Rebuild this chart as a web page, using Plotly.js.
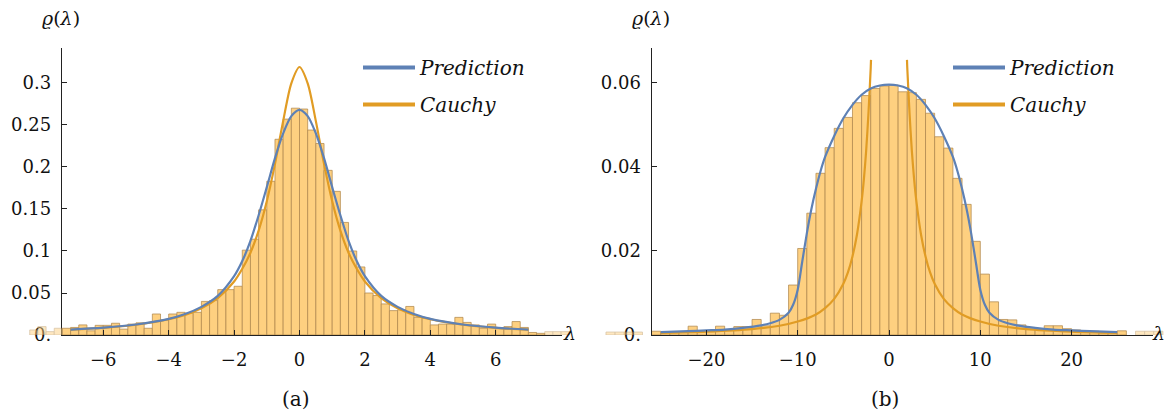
<!DOCTYPE html>
<html>
<head>
<meta charset="utf-8">
<script src="https://cdn.plot.ly/plotly-3.0.1.min.js"></script>
<style>html,body{margin:0;padding:0;background:#fff;}#chart{width:1166px;height:418px;}</style>
</head>
<body>
<div id="chart"></div>
<script>
// ---------- data: panel (a) ----------
const leftBinStart = -7.25;
const leftBinWidth = 0.25;
const leftDensity = [0.008,0.009,0.012,0.005,0.0115,0.0115,0.014,0.007,0.013,0.0145,
  0.008,0.025,0.018,0.025,0.027,0.026,0.027,0.040,0.041,0.054,
  0.054,0.058,0.101,0.114,0.149,0.183,0.233,0.257,0.270,
  0.269,0.244,0.228,0.196,0.171,0.134,0.100,0.081,0.050,0.047,
  0.037,0.029,0.030,0.034,0.021,0.020,0.012,0.013,0.013,0.021,
  0.015,0.012,0.008,0.013,0.008,0.010,0.016,0.009,0.003,0.002];
const leftOutStarts = [-8.25,-8,-7.75,-7.5,7.5,7.75,8];
const leftOutDensity = [0.006,0.010,0.004,0.008,0.004,0.004,0.004];

const leftCurveX = [-7,-6,-5,-4,-3.5,-3,-2.5,-2,-1.75,-1.5,-1.25,-1,-0.75,-0.5,-0.25,0,
  0.25,0.5,0.75,1,1.25,1.5,1.75,2,2.5,3,3.5,4,5,6,7];
const leftPrediction = [0.0064,0.0087,0.0125,0.0192,0.0250,0.0335,0.0465,0.0700,0.0880,0.1120,0.1425,0.1760,0.2105,0.2400,0.2605,0.2680,
  0.2605,0.2400,0.2105,0.1760,0.1425,0.1120,0.0880,0.0700,0.0465,0.0335,0.0250,0.0192,0.0125,0.0087,0.0064];
const leftCauchy = [0.0064,0.0086,0.0122,0.0187,0.0240,0.0318,0.0439,0.0637,0.0788,0.0979,0.1242,0.1592,0.2037,0.2546,0.2996,0.3190,
  0.2996,0.2546,0.2037,0.1592,0.1242,0.0979,0.0788,0.0637,0.0439,0.0318,0.0240,0.0187,0.0122,0.0086,0.0064];

const leftYTicks = [0,0.05,0.1,0.15,0.2,0.25,0.3];
const leftYTickText = ["0.","0.05","0.1","0.15","0.2","0.25","0.3"];
const leftXTicks = [-6,-4,-2,0,2,4,6];

// ---------- data: panel (b) ----------
const rightBinStart = -26;
const rightBinWidth = 1;
const rightDensity = [0.0009,0.0006,0.0006,0.0006,0.0021,0.0008,0.0008,0.0021,0.0012,0.0020,
  0.0020,0.0037,0.0022,0.0052,0.0047,0.0119,0.0206,0.0290,0.0385,0.0446,
  0.0492,0.0518,0.0553,0.0570,0.0587,0.0593,
  0.0595,0.0579,0.0577,0.0561,0.0528,0.0472,0.0445,0.0373,0.0311,0.0223,
  0.0145,0.0079,0.0037,0.0036,0.0024,0.0018,0.0015,0.0022,0.0022,0.0015,
  0.0012,0.0008,0.0009,0.0005,0.0004,0.0010];
const rightOutStarts = [-31,-30,-29,-28,27,28,29];
const rightOutDensity = [0.0007,0.0007,0.0007,0.0007,0.0009,0.0009,0.0009];

const rightPredX = [-25,-22,-20,-18,-16,-14,-13,-12,-11,-10.5,-10,-9.5,-9,-8.5,-8,-7.5,-7,-6,-5,-4,-3,-2,-1,0,
  1,2,3,4,5,6,7,7.5,8,8.5,9,9.5,10,10.5,11,12,13,14,16,18,20,22,25];
const rightPrediction = [0.0007,0.0009,0.0011,0.0013,0.0017,0.0023,0.0028,0.0036,0.0053,0.0072,0.0108,0.0175,0.0242,0.0300,0.0348,0.0390,0.0424,0.0474,0.0516,0.0548,0.0572,0.0587,0.0594,0.0596,
  0.0594,0.0587,0.0572,0.0548,0.0516,0.0474,0.0424,0.0390,0.0348,0.0300,0.0242,0.0175,0.0108,0.0072,0.0053,0.0036,0.0028,0.0023,0.0017,0.0013,0.0011,0.0009,0.0007];
const rightCauchyLeftX = [-25,-20,-15,-12,-10,-8,-7,-6,-5,-4.5,-4,-3.5,-3,-2.75,-2.5,-2.25,-2,-1.97];
const rightCauchyLeft = [0.0005,0.0008,0.0014,0.0022,0.0032,0.0049,0.0064,0.0086,0.0122,0.0149,0.0187,0.0240,0.0318,0.0371,0.0439,0.0528,0.0637,0.0655];
const rightCauchyRightX = [1.97,2,2.25,2.5,2.75,3,3.5,4,4.5,5,6,7,8,10,12,15,20,25];
const rightCauchyRight = [0.0655,0.0637,0.0528,0.0439,0.0371,0.0318,0.0240,0.0187,0.0149,0.0122,0.0086,0.0064,0.0049,0.0032,0.0022,0.0014,0.0008,0.0005];

const rightYTicks = [0,0.02,0.04,0.06];
const rightYTickText = ["0.","0.02","0.04","0.06"];
const rightXTicks = [-20,-10,0,10,20];

// ---------- styling ----------
const W = 1166, H = 418;
const BLUE = 'rgb(94,129,181)';
const ORANGE = 'rgb(225,156,36)';
const BARFILL = 'rgb(254,208,128)';
const BAREDGE = 'rgba(176,136,78,0.75)';
const SERIF = 'DejaVu Serif, Liberation Serif, serif';
const px = v => v / W;
const py = v => 1 - v / H;

function centers(start, width, n) { const a = []; for (let i = 0; i < n; i++) a.push(start + (i + 0.5) * width); return a; }
function centersFrom(starts, width) { return starts.map(s => s + width / 2); }

function bars(x, y, w, xa, ya, op) {
  return {type: 'bar', x: x, y: y, width: w, xaxis: xa, yaxis: ya, showlegend: false, hoverinfo: 'skip',
    opacity: op, marker: {color: BARFILL, line: {color: BAREDGE, width: 1}}};
}
function curve(x, y, color, xa, ya) {
  return {type: 'scatter', mode: 'lines', x: x, y: y, xaxis: xa, yaxis: ya, showlegend: false, hoverinfo: 'skip',
    line: {color: color, width: 2.2, shape: 'spline', smoothing: 0.8}};
}
function legendKey(name, color, leg) {
  return {type: 'scatter', mode: 'lines', x: [null], y: [null], name: name, legend: leg, legendgroup: leg + name,
    showlegend: true, line: {color: color, width: 4}, xaxis: 'x', yaxis: 'y'};
}

const traces = [
  bars(centers(leftBinStart, leftBinWidth, leftDensity.length), leftDensity, leftBinWidth, 'x', 'y', 1),
  curve(leftCurveX, leftCauchy, ORANGE, 'x', 'y'),
  curve(leftCurveX, leftPrediction, BLUE, 'x', 'y'),
  bars(centers(rightBinStart, rightBinWidth, rightDensity.length), rightDensity, rightBinWidth, 'x2', 'y2', 1),
  curve(rightCauchyLeftX, rightCauchyLeft, ORANGE, 'x2', 'y2'),
  curve(rightCauchyRightX, rightCauchyRight, ORANGE, 'x2', 'y2'),
  curve(rightPredX, rightPrediction, BLUE, 'x2', 'y2'),
  bars(centersFrom(leftOutStarts, leftBinWidth), leftOutDensity, leftBinWidth, 'x3', 'y3', 0.5),
  bars(centersFrom(rightOutStarts, rightBinWidth), rightOutDensity, rightBinWidth, 'x4', 'y4', 0.5),
  legendKey('Prediction', BLUE, 'legend'),
  legendKey('Cauchy', ORANGE, 'legend'),
  legendKey('Prediction', BLUE, 'legend2'),
  legendKey('Cauchy', ORANGE, 'legend2')
];

// geometry (pixels)
const yBottom = 335, yTop = 47.7;
const L = {x0: 62, x1: 562, zero: 299.5, scale: 32.7, ymax: 0.342};
const R = {x0: 651.7, x1: 1153, zero: 889, scale: 9.13, ymax: 0.0684};
const toVal = (g, p) => (p - g.zero) / g.scale;

const tickFont = {family: SERIF, size: 18, color: '#111'};
function xAxis(g, ticks) {
  return {domain: [px(g.x0), px(g.x1)], range: [toVal(g, g.x0), toVal(g, g.x1)], showgrid: false, zeroline: false,
    showline: true, linecolor: '#222', linewidth: 1.2, ticks: 'inside', ticklen: 5, tickwidth: 1, tickcolor: '#222',
    tickmode: 'array', tickvals: ticks, tickfont: tickFont, ticklabelstandoff: 8, fixedrange: true};
}
function yAxis(g, ticks, text, anchor) {
  return {domain: [py(yBottom), py(yTop)], range: [0, g.ymax], anchor: anchor, showgrid: false, zeroline: false,
    showline: true, linecolor: '#222', linewidth: 1.2, ticks: 'inside', ticklen: 5, tickwidth: 1, tickcolor: '#222',
    tickmode: 'array', tickvals: ticks, ticktext: text, tickfont: tickFont, ticklabelstandoff: 6, fixedrange: true};
}
function hiddenX(g, p0, p1, anchor) {
  return {domain: [px(p0), px(p1)], range: [toVal(g, p0), toVal(g, p1)], visible: false, anchor: anchor, fixedrange: true};
}
function hiddenY(g, anchor) {
  return {domain: [py(yBottom), py(yTop)], range: [0, g.ymax], visible: false, anchor: anchor, fixedrange: true};
}

const legFont = {family: SERIF, size: 20, style: 'italic', color: '#111'};
function legend(xp) {
  return {x: px(xp), y: py(48), xanchor: 'left', yanchor: 'top', bgcolor: 'rgba(0,0,0,0)', borderwidth: 0,
    font: legFont, tracegroupgap: 8, itemwidth: 52, itemclick: false, itemdoubleclick: false};
}

function ann(text, xp, yp, size) {
  return {text: text, xref: 'paper', yref: 'paper', x: px(xp), y: py(yp), xanchor: 'center', yanchor: 'middle',
    showarrow: false, font: {family: SERIF, size: size, color: '#111'}};
}

const layout = {
  width: W, height: H, margin: {l: 0, r: 0, t: 0, b: 0}, autosize: false,
  paper_bgcolor: '#fff', plot_bgcolor: 'rgba(0,0,0,0)',
  barmode: 'overlay', bargap: 0, showlegend: true,
  xaxis: Object.assign(xAxis(L, leftXTicks), {anchor: 'y'}),
  yaxis: yAxis(L, leftYTicks, leftYTickText, 'x'),
  xaxis2: Object.assign(xAxis(R, rightXTicks), {anchor: 'y2'}),
  yaxis2: yAxis(R, rightYTicks, rightYTickText, 'x2'),
  xaxis3: hiddenX(L, 20, 600, 'y3'),
  yaxis3: hiddenY(L, 'x3'),
  xaxis4: hiddenX(R, 590, 1166, 'y4'),
  yaxis4: hiddenY(R, 'x4'),
  legend: legend(358),
  legend2: legend(948),
  annotations: [
    ann('<i>ϱ</i>(<i>λ</i>)', 61, 18, 19),
    ann('<i>ϱ</i>(<i>λ</i>)', 651, 18, 19),
    ann('<i>λ</i>', 569, 333, 19),
    ann('<i>λ</i>', 1158, 333, 19),
    ann('(a)', 296, 399, 20),
    ann('(b)', 885, 399, 20)
  ]
};

Plotly.newPlot('chart', traces, layout, {staticPlot: true, displayModeBar: false});
</script>
</body>
</html>
